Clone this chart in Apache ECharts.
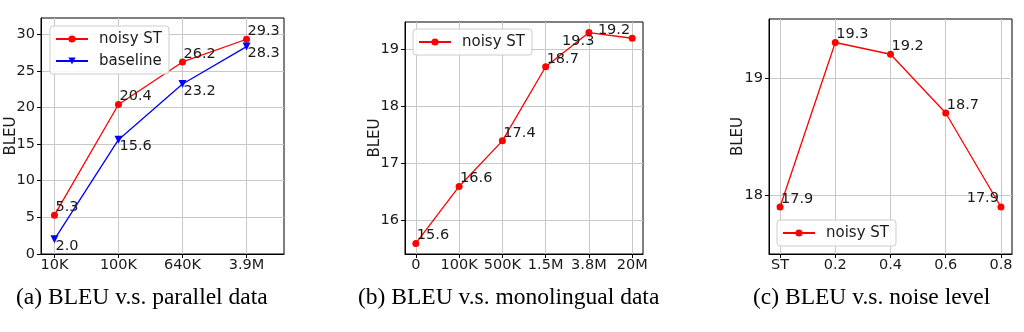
<!DOCTYPE html>
<html>
<head>
<meta charset="utf-8">
<script src="https://cdn.jsdelivr.net/npm/echarts@6/dist/echarts.min.js"></script>
<style>
  html, body { margin: 0; padding: 0; background: #fff; }
  #chart { width: 1024px; height: 332px; }
</style>
</head>
<body>
<div id="chart"></div>
<script>
// (a) BLEU against the amount of parallel data
const parallelSizes = ['10K', '100K', '640K', '3.9M'];
const parallelNoisyST = [5.3, 20.4, 26.2, 29.3];
const parallelBaseline = [2.0, 15.6, 23.2, 28.3];
const parallelYTicks = [0, 5, 10, 15, 20, 25, 30];

// (b) BLEU against the amount of monolingual data
const monoSizes = ['0', '100K', '500K', '1.5M', '3.8M', '20M'];
const monoNoisyST = [15.6, 16.6, 17.4, 18.7, 19.3, 19.2];
const monoYTicks = [16, 17, 18, 19];

// (c) BLEU against the noise level
const noiseLevels = ['ST', '0.2', '0.4', '0.6', '0.8'];
const noiseNoisyST = [17.9, 19.3, 19.2, 18.7, 17.9];
const noiseYTicks = [18, 19];

const captions = [
  '(a) BLEU v.s. parallel data',
  '(b) BLEU v.s. monolingual data',
  '(c) BLEU v.s. noise level'
];

const SANS = 'DejaVu Sans';
const SERIF = 'Liberation Serif';
const INK = '#1a1a1a';

// where each value label sits around its point
const LABEL_PLACES = {
  ne: { offset: [1, -8], align: 'left' },
  se: { offset: [1, 7], align: 'left' },
  nw: { offset: [-2, -8.5], align: 'right' },
  sw: { offset: [5.5, 8.5], align: 'right' }
};
const parallelNoisyPlaces = ['ne', 'ne', 'ne', 'ne'];
const parallelBasePlaces = ['se', 'se', 'se', 'se'];
const monoPlaces = ['ne', 'ne', 'ne', 'ne', 'sw', 'nw'];
const noisePlaces = ['ne', 'ne', 'ne', 'ne', 'nw'];

function points(values, places) {
  return values.map(function (v, i) {
    const p = LABEL_PLACES[places[i]];
    return {
      value: [i, v],
      label: {
        show: true,
        position: 'inside',
        offset: p.offset,
        align: p.align,
        verticalAlign: 'middle',
        formatter: v.toFixed(1),
        fontFamily: SANS,
        fontSize: 14.5,
        color: INK
      }
    };
  });
}

const grids = [
  { left: 41, top: 18, width: 243, height: 236 },
  { left: 405, top: 22, width: 238, height: 232 },
  { left: 769, top: 19, width: 243, height: 235 }
];

function xAxisFor(gridIndex, names, pad) {
  const ticks = names.map(function (_, i) { return i; });
  return {
    type: 'value',
    gridIndex: gridIndex,
    min: -pad[0],
    max: names.length - 1 + pad[1],
    axisLine: { show: true, onZero: false, lineStyle: { color: '#000', width: 1 } },
    axisTick: { show: true, customValues: ticks, length: 4, lineStyle: { color: '#000' } },
    axisLabel: {
      customValues: ticks,
      formatter: function (v) { return names[Math.round(v)]; },
      fontFamily: SANS, fontSize: 14.5, color: INK, margin: 4
    },
    splitLine: { show: true, lineStyle: { color: '#c8c8c8', width: 1 } }
  };
}

function yAxisFor(gridIndex, ticks, min, max, nameGap) {
  return {
    type: 'value',
    gridIndex: gridIndex,
    min: min,
    max: max,
    name: 'BLEU',
    nameLocation: 'middle',
    nameRotate: 90,
    nameGap: nameGap,
    nameMoveOverlap: false,
    nameTextStyle: { fontFamily: SANS, fontSize: 15, color: INK },
    axisLine: { show: true, onZero: false, lineStyle: { color: '#000', width: 1 } },
    axisTick: { show: true, customValues: ticks, length: 4, lineStyle: { color: '#000' } },
    axisLabel: {
      customValues: ticks,
      formatter: function (v) { return String(v); },
      fontFamily: SANS, fontSize: 14.5, color: INK, margin: 6
    },
    splitLine: { show: true, lineStyle: { color: '#c8c8c8', width: 1 } }
  };
}

function lineSeries(name, color, symbol, rotate, axisIndex, data) {
  return {
    name: name,
    type: 'line',
    xAxisIndex: axisIndex,
    yAxisIndex: axisIndex,
    data: data,
    symbol: symbol,
    symbolSize: symbol === 'triangle' ? 8 : 7,
    symbolRotate: rotate,
    showAllSymbol: true,
    lineStyle: { color: color, width: 1.3 },
    itemStyle: { color: color },
    animation: false,
    z: 3
  };
}

function legendAt(left, top, names) {
  return {
    left: left,
    top: top,
    orient: 'vertical',
    data: names,
    itemWidth: 32,
    itemHeight: 9,
    itemGap: 6,
    padding: [5, 7, 5, 5],
    backgroundColor: 'rgba(255,255,255,0.85)',
    borderColor: '#cccccc',
    borderWidth: 1,
    borderRadius: 3,
    selectedMode: false,
    textStyle: {
      fontFamily: SANS, fontSize: 15, color: INK,
      lineHeight: 16, padding: [0, 0, 0, 6]
    }
  };
}

const chart = echarts.init(document.getElementById('chart'), null, { renderer: 'canvas' });

chart.setOption({
  backgroundColor: '#fff',
  animation: false,
  title: [
    { text: captions[0], left: 16, top: 286 },
    { text: captions[1], left: 358, top: 286 },
    { text: captions[2], left: 753, top: 286 }
  ].map(function (t) {
    t.padding = 0;
    t.textStyle = { fontFamily: SERIF, fontSize: 23.5, fontWeight: 'normal', color: '#000' };
    return t;
  }),
  grid: grids.map(function (g) {
    return Object.assign({
      show: true, borderColor: '#000', borderWidth: 1,
      backgroundColor: 'transparent', outerBoundsMode: 'none'
    }, g);
  }),
  legend: [
    legendAt(50, 26, ['noisy ST', 'baseline']),
    legendAt(413, 29, ['noisy ST']),
    legendAt(777, 220, ['noisy ST'])
  ],
  xAxis: [
    xAxisFor(0, parallelSizes, [0.21, 0.585]),
    xAxisFor(1, monoSizes, [0.25, 0.25]),
    xAxisFor(2, noiseLevels, [0.2, 0.2])
  ],
  yAxis: [
    yAxisFor(0, parallelYTicks, 0, 32.2, 22),
    yAxisFor(1, monoYTicks, 15.415, 19.485, 22),
    yAxisFor(2, noiseYTicks, 17.5, 19.5, 23)
  ],
  series: [
    lineSeries('noisy ST', '#ff0000', 'circle', 0, 0, points(parallelNoisyST, parallelNoisyPlaces)),
    lineSeries('baseline', '#0000ff', 'triangle', 180, 0, points(parallelBaseline, parallelBasePlaces)),
    lineSeries('noisy ST', '#ff0000', 'circle', 0, 1, points(monoNoisyST, monoPlaces)),
    lineSeries('noisy ST', '#ff0000', 'circle', 0, 2, points(noiseNoisyST, noisePlaces))
  ]
});
</script>
</body>
</html>
